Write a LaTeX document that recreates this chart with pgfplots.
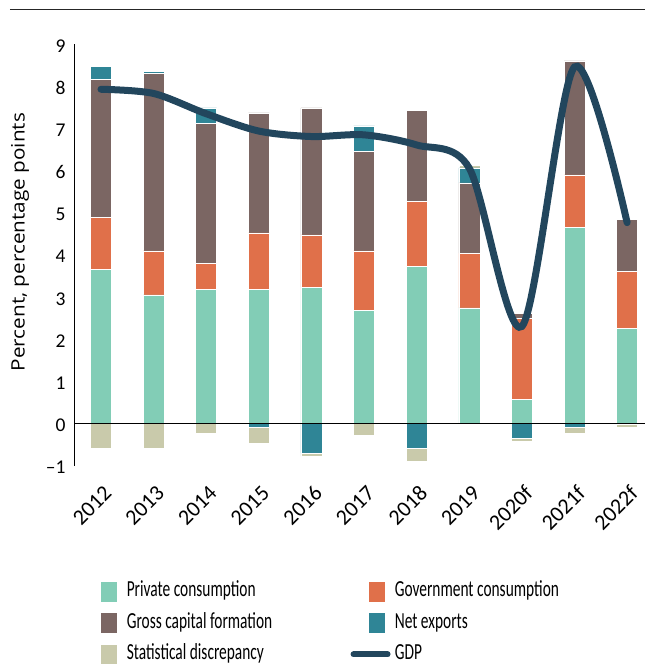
\documentclass[border=0pt]{standalone}
\usepackage{fontspec}
\setmainfont{Carlito}
\newfontfamily\legfam{Carlito}[FakeStretch=0.67]
\newfontfamily\ylabfam{Open Sans}[FakeStretch=1.12]
\usepackage{pgfplots}
\usepackage{pgfplotstable}
\pgfplotsset{compat=1.18}

\definecolor{pcc}{HTML}{82CDB6}
\definecolor{gcc}{HTML}{E0704A}
\definecolor{gcfc}{HTML}{7B6663}
\definecolor{nxc}{HTML}{2F8596}
\definecolor{sdc}{HTML}{C9CAAB}
\definecolor{gdpc}{HTML}{22465D}

% positive contributions, stacked up from zero
\pgfplotstableread{
x  pc    gc    gcf   nx    sd
0  3.66  1.23  3.27  0.31  0
1  3.05  1.04  4.21  0.05  0
2  3.17  0.63  3.31  0.37  0
3  3.17  1.35  2.84  0     0
4  3.23  1.24  3.01  0     0
5  2.68  1.41  2.35  0.61  0
6  3.73  1.54  2.15  0     0
7  2.74  1.29  1.67  0.36  0.07
8  0.58  1.91  0.12  0     0
9  4.65  1.24  2.70  0     0
10 2.25  1.36  1.23  0     0
}\postab

% negative contributions, stacked down from zero
\pgfplotstableread{
x  nx     sd
0  0      -0.59
1  0      -0.59
2  0      -0.22
3  -0.09  -0.38
4  -0.71  -0.07
5  0      -0.27
6  -0.58  -0.31
7  0      0
8  -0.35  -0.06
9  -0.09  -0.13
10 -0.02  -0.08
}\negtab

\pgfplotstableread{
x  gdp
0  7.92
1  7.82
2  7.34
3  6.93
4  6.80
5  6.84
6  6.60
7  6.05
8  2.30
9  8.45
10 4.76
}\gdptab

\pgfplotsset{
  base/.style={
    width=570bp, height=422bp, scale only axis,
    xmin=-0.494, xmax=10.34, ymin=-1, ymax=9,
    bar width=21bp,
  },
  seg/.style={fill=#1, draw=white, line width=0.5bp},
}

\begin{document}
\begin{tikzpicture}
\path[use as bounding box] (-75bp,-198.3bp) rectangle (570bp,465.7bp);

% negative parts
\begin{axis}[base, hide axis, ybar stacked]
\addplot[seg=nxc] table[x=x, y=nx] {\negtab};
\addplot[seg=sdc] table[x=x, y=sd] {\negtab};
\end{axis}

% positive parts, axes and legend
\begin{axis}[base, ybar stacked,
  axis lines*=left,
  x axis line style={draw=none},
  y axis line style={line width=1bp},
  tick style={draw=none},
  ytick={-1,0,...,9},
  yticklabels={--1,0,1,2,3,4,5,6,7,8,9},
  yticklabel style={font=\fontsize{19.5bp}{22bp}\selectfont, xshift=-6bp, yshift=-2bp},
  xtick={0,...,10},
  xticklabels={2012,2013,2014,2015,2016,2017,2018,2019,2020f,2021f,2022f},
  xticklabel style={font=\fontsize{22bp}{24bp}\selectfont, inner sep=0pt,
    xshift=7bp, yshift=-24bp, rotate=45, anchor=east},
  ylabel={Percent, percentage points},
  ylabel style={font=\ylabfam\fontsize{18.5bp}{21bp}\selectfont,
    at={(axis description cs:-0.0965,0.53)}, anchor=center},
  legend columns=2,
  legend cell align=left,
  legend image code/.code={\fill[#1] (0bp,-10.5bp) rectangle (17bp,10.5bp);},
  legend style={at={(axis description cs:0.044,-0.272)}, anchor=north west,
    draw=none, fill=none, inner sep=0pt,
    font=\legfam\fontsize{23bp}{26bp}\selectfont,
    row sep=10bp,
    nodes={inner sep=0pt, text height=16bp, text depth=5bp},
    /tikz/every odd column/.append style={column sep=9bp},
    /tikz/every even column/.append style={column sep=96bp}},
]
\addplot[seg=pcc] table[x=x, y=pc] {\postab};
\addlegendentry{Private consumption}
\addplot[seg=gcc] table[x=x, y=gc] {\postab};
\addlegendentry{Government consumption}
\addplot[seg=gcfc] table[x=x, y=gcf] {\postab};
\addlegendentry{Gross capital formation}
\addplot[seg=nxc] table[x=x, y=nx] {\postab};
\addlegendentry{Net exports}
\addplot[seg=sdc] table[x=x, y=sd] {\postab};
\addlegendentry{Statistical discrepancy}
\addlegendimage{legend image code/.code={\path[draw=none, fill=none] (0bp,-10.5bp) rectangle (17bp,10.5bp);
  \draw[gdpc, fill=none, line width=6bp, line cap=round, overlay] (-15bp,0bp) -- (19bp,0bp);}}
\addlegendentry{GDP}
\end{axis}

% zero line and GDP
\begin{axis}[base, hide axis, clip=false]
\draw[black, line width=1bp] ({rel axis cs:0,0}|-{axis cs:0,0}) -- ({rel axis cs:1,0}|-{axis cs:0,0});
\addplot[gdpc, line width=7bp, line cap=round, smooth] table[x=x, y=gdp] {\gdptab};
\end{axis}

\draw[line width=1.5bp, black!85] (-65bp,456.2bp) -- (570bp,456.2bp);
\end{tikzpicture}
\end{document}
